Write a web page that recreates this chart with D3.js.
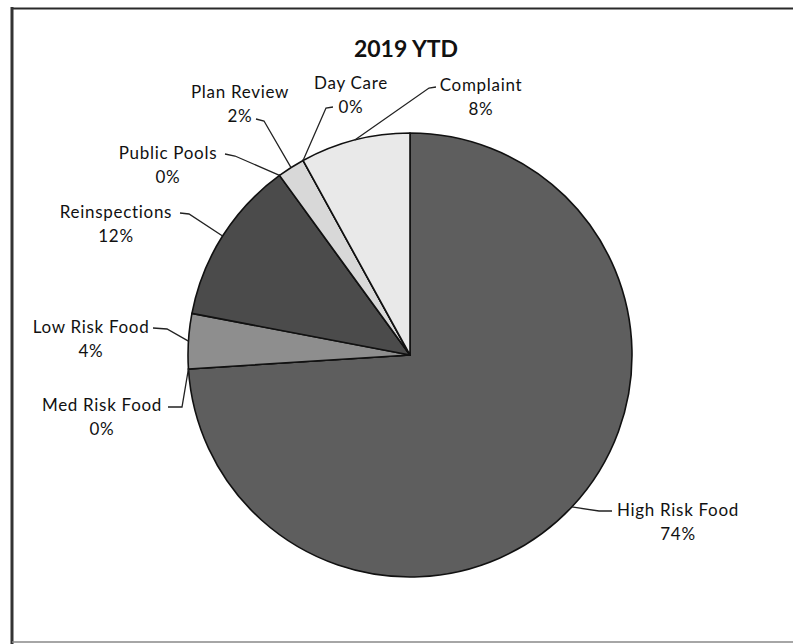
<!DOCTYPE html>
<html>
<meta charset="utf-8">
<script src="https://cdn.jsdelivr.net/npm/d3@7/dist/d3.min.js"></script>
<style>
  body { margin: 0; background: #fff; }
  text { font-family: Lato, "Open Sans", sans-serif; fill: #111; }
</style>
<body>
<div id="plot_area"></div>
</body>
<script>

// data, clockwise from 12 o'clock
var categories = ["High Risk Food", "Med Risk Food", "Low Risk Food", "Reinspections",
                  "Public Pools", "Plan Review", "Day Care", "Complaint"];
var percents = [74, 0, 4, 12, 0, 2, 0, 8];
var fills = ["#5e5e5e", "#6a6a6a", "#8e8e8e", "#4b4b4b", "#555555", "#d8d8d8", "#dddddd", "#e9e9e9"];

// label layout (text centre x, first baseline y, leader start x/y, elbow x/y)
var labelLayout = [
  {x: 678, y: 516, sx: 612, sy: 511, ex: 599, ey: 511},
  {x: 102, y: 411, sx: 168, sy: 407, ex: 182, ey: 407},
  {x: 91,  y: 333, sx: 153, sy: 328, ex: 167, ey: 329},
  {x: 116, y: 218, sx: 180, sy: 213, ex: 189, ey: 214},
  {x: 168, y: 159, sx: 225, sy: 154, ex: 235, ey: 156},
  {x: 240, y: 98,  sx: 256, sy: 119, ex: 264, ey: 121},
  {x: 351, y: 89,  sx: 333, sy: 107, ex: 326, ey: 108},
  {x: 481, y: 91,  sx: 436, sy: 87,  ex: 429, ey: 88}
];

var width = 793, height = 644;
var cx = 410, cy = 355, radius = 222;

var svg = d3.select("#plot_area")
  .append("svg")
    .attr("width", width)
    .attr("height", height);

// scanned frame
svg.append("line").attr("x1", 11).attr("x2", 793).attr("y1", 8.5).attr("y2", 8.5)
  .attr("stroke", "#2a2a2a").attr("stroke-width", 2);
svg.append("line").attr("x1", 12).attr("x2", 12).attr("y1", 7).attr("y2", 644)
  .attr("stroke", "#333").attr("stroke-width", 3);
svg.append("line").attr("x1", 12).attr("x2", 793).attr("y1", 642).attr("y2", 642)
  .attr("stroke", "#888").attr("stroke-width", 1.5);

svg.append("text")
  .attr("x", 406).attr("y", 57)
  .attr("text-anchor", "middle")
  .style("font-size", "23px")
  .style("font-weight", "bold")
  .text("2019 YTD");

var data = categories.map(function(c, i) { return {name: c, value: percents[i], fill: fills[i], lab: labelLayout[i]}; });

var pie = d3.pie()
  .sort(null)
  .value(function(d) { return d.value; });

var arc = d3.arc().innerRadius(0).outerRadius(radius);

var g = svg.append("g")
  .attr("transform", "translate(" + cx + "," + cy + ")");

g.selectAll("path.slice")
  .data(pie(data))
  .enter()
  .append("path")
    .attr("class", "slice")
    .attr("d", arc)
    .attr("fill", function(d) { return d.data.fill; })
    .attr("stroke", "#111")
    .attr("stroke-width", 1.6)
    .attr("stroke-linejoin", "round");

// leader lines, to the middle of each slice's outer edge
g.selectAll("path.leader")
  .data(pie(data))
  .enter()
  .append("path")
    .attr("class", "leader")
    .attr("fill", "none")
    .attr("stroke", "#222")
    .attr("stroke-width", 1.3)
    .attr("d", function(d) {
      var a = (d.startAngle + d.endAngle) / 2;
      var px = radius * Math.sin(a), py = -radius * Math.cos(a);
      var L = d.data.lab;
      return "M" + (L.sx - cx) + "," + (L.sy - cy) +
             "L" + (L.ex - cx) + "," + (L.ey - cy) +
             "L" + px + "," + py;
    });

var labels = svg.selectAll("text.lbl")
  .data(pie(data))
  .enter()
  .append("text")
    .attr("class", "lbl")
    .attr("text-anchor", "middle")
    .style("font-size", "17px")
    .style("letter-spacing", "0.7px");

labels.append("tspan")
  .attr("x", function(d) { return d.data.lab.x; })
  .attr("y", function(d) { return d.data.lab.y; })
  .text(function(d) { return d.data.name; });

labels.append("tspan")
  .attr("x", function(d) { return d.data.lab.x; })
  .attr("y", function(d) { return d.data.lab.y + 24; })
  .text(function(d) { return d3.format(".0f")(d.data.value) + "%"; });

</script>
</html>
